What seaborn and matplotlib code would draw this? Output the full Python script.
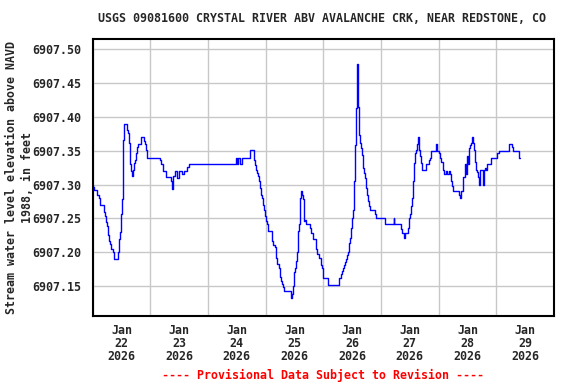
import numpy as np
import pandas as pd
import matplotlib
matplotlib.use("Agg")
import matplotlib.pyplot as plt
import matplotlib.dates as mdates
import matplotlib.ticker as mticker
import seaborn as sns

title = "USGS 09081600 CRYSTAL RIVER ABV AVALANCHE CRK, NEAR REDSTONE, CO"
ylabel = "Stream water level elevation above NAVD\n1988, in feet"
footer = "---- Provisional Data Subject to Revision ----"
start = "2026-01-22"

# hours since 2026-01-22 00:00
hours = [0, 0.2, 0.6, 1.8, 2.7, 3.1, 4.7, 5.2, 5.6, 6.0, 6.4, 6.8, 7.2, 7.7, 8.5, 8.9,
         10.6, 11.0, 11.4, 11.8, 12.2, 12.6, 13.1, 14.2, 14.6, 15.0, 15.4, 16.1, 16.5,
         16.9, 17.4, 17.8, 18.2, 18.6, 19.0, 20.3, 21.5, 21.9, 22.4, 22.8, 28.0, 28.5,
         29.3, 30.5, 32.6, 33.0, 33.3, 33.5, 34.3, 35.1, 36.0, 37.2, 38.0, 39.3, 40.1,
         59.7, 60.1, 60.5, 61.4, 62.2, 65.5, 67.2, 67.6, 68.0, 68.4, 68.9, 69.3, 69.7,
         70.1, 70.5, 70.9, 71.4, 71.8, 72.2, 72.6, 73.0, 74.7, 75.1, 75.9, 76.3, 76.8,
         77.6, 78.0, 78.4, 78.8, 79.3, 79.7, 82.6, 83.0, 83.4, 83.8, 84.3, 84.7, 85.1,
         85.5, 85.9, 86.3, 86.8, 87.2, 87.6, 87.9, 88.4, 88.8, 90.5, 90.9, 91.8, 93.0,
         93.4, 94.3, 95.1, 95.5, 95.9, 98.0, 102.6, 103.4, 103.8, 104.3, 104.7, 105.1,
         105.5, 105.9, 106.3, 106.8, 107.2, 107.6, 108.0, 108.4, 108.8, 109.3, 109.7,
         110.1, 110.5, 110.6, 110.9, 111.3, 111.7, 112.1, 112.5, 113.0, 113.4, 113.8,
         114.2, 114.6, 115.0, 115.5, 117.5, 118.0, 121.7, 125.3, 125.5, 128.4, 128.8,
         129.6, 130.0, 131.3, 131.7, 132.1, 132.5, 133.0, 133.4, 133.8, 134.2, 134.6,
         135.0, 135.3, 135.7, 136.1, 136.6, 137.0, 138.8, 140.0, 140.4, 140.9, 142.9,
         143.3, 144.2, 144.6, 145.0, 145.8, 146.3, 147.0, 147.5, 148.3, 148.7, 149.2,
         149.6, 150.0, 152.5, 152.9, 153.3, 154.3, 155.0, 155.2, 155.8, 156.2, 156.7,
         157.1, 157.5, 157.9, 158.3, 158.7, 159.2, 159.6, 160.0, 160.4, 160.8, 161.0,
         161.2, 162.5, 162.9, 163.3, 163.7, 164.2, 165.8, 168.3, 169.0, 173.4, 174.6,
         175.0, 177.4, 177.7]

elevation = [6907.300, 6907.297, 6907.292, 6907.285, 6907.280, 6907.270, 6907.260,
             6907.253, 6907.244, 6907.239, 6907.226, 6907.217, 6907.212, 6907.205,
             6907.200, 6907.190, 6907.200, 6907.220, 6907.230, 6907.256, 6907.278,
             6907.366, 6907.390, 6907.381, 6907.376, 6907.361, 6907.331, 6907.320,
             6907.312, 6907.321, 6907.332, 6907.337, 6907.347, 6907.356, 6907.360,
             6907.370, 6907.364, 6907.360, 6907.351, 6907.340, 6907.336, 6907.331,
             6907.320, 6907.311, 6907.306, 6907.293, 6907.306, 6907.312, 6907.320,
             6907.310, 6907.320, 6907.315, 6907.320, 6907.326, 6907.330,
             6907.339, 6907.330, 6907.340, 6907.330, 6907.340, 6907.351, 6907.337,
             6907.329, 6907.322, 6907.317, 6907.312, 6907.305, 6907.295, 6907.285,
             6907.280, 6907.270, 6907.262, 6907.253, 6907.246, 6907.241, 6907.231,
             6907.217, 6907.210, 6907.207, 6907.192, 6907.182, 6907.177, 6907.163,
             6907.158, 6907.153, 6907.148, 6907.142, 6907.132, 6907.138, 6907.150,
             6907.170, 6907.177, 6907.187, 6907.200, 6907.231, 6907.241, 6907.280,
             6907.290, 6907.285, 6907.278, 6907.246, 6907.248, 6907.241, 6907.236,
             6907.229, 6907.220, 6907.205, 6907.198, 6907.191, 6907.181, 6907.176,
             6907.162, 6907.152, 6907.162, 6907.168, 6907.172, 6907.177, 6907.181,
             6907.186, 6907.190, 6907.196, 6907.200, 6907.214, 6907.221, 6907.236,
             6907.251, 6907.262, 6907.305, 6907.359, 6907.413, 6907.479, 6907.450,
             6907.415, 6907.374, 6907.361, 6907.354, 6907.344, 6907.325, 6907.317,
             6907.310, 6907.295, 6907.285, 6907.275, 6907.268, 6907.262, 6907.256,
             6907.251, 6907.241, 6907.251, 6907.241, 6907.234, 6907.229, 6907.221,
             6907.229, 6907.236, 6907.251, 6907.256, 6907.269, 6907.280, 6907.306,
             6907.332, 6907.347, 6907.351, 6907.360, 6907.370, 6907.351, 6907.342,
             6907.332, 6907.321, 6907.331, 6907.336, 6907.340, 6907.350, 6907.360,
             6907.350, 6907.347, 6907.340, 6907.334, 6907.321, 6907.315, 6907.320,
             6907.315, 6907.320, 6907.315, 6907.305, 6907.298, 6907.291, 6907.285,
             6907.280, 6907.291, 6907.311, 6907.330, 6907.315, 6907.342, 6907.330,
             6907.354, 6907.359, 6907.361, 6907.370, 6907.361, 6907.351, 6907.334,
             6907.322, 6907.318, 6907.311, 6907.300, 6907.311, 6907.321, 6907.300,
             6907.321, 6907.325, 6907.321, 6907.331, 6907.340, 6907.347, 6907.350,
             6907.360, 6907.355, 6907.350, 6907.340, 6907.340]

yticks = [6907.15, 6907.20, 6907.25, 6907.30, 6907.35, 6907.40, 6907.45, 6907.50]

df = pd.DataFrame({
    "time": pd.Timestamp(start) + pd.to_timedelta(hours, unit="h"),
    "elevation": elevation,
})

sns.set_theme(style="white")
plt.rcParams["font.family"] = ["DejaVu Sans Mono", "DejaVu Sans"]
plt.rcParams["font.weight"] = "bold"

fig = plt.figure(figsize=(5.76, 3.84), dpi=100)
ax = fig.add_axes([92.6 / 576, 1 - 315.7 / 384, (554 - 92.6) / 576, (315.7 - 39.3) / 384])

sns.lineplot(data=df, x="time", y="elevation", ax=ax, color="#0000ff",
             linewidth=1.0, drawstyle="steps-post")

ax.set_xlim(pd.Timestamp("2026-01-22"), pd.Timestamp("2026-01-30"))
ax.set_ylim(6907.1061, 6907.5148)

ax.set_yticks(yticks)
ax.yaxis.set_major_formatter(mticker.FormatStrFormatter("%.2f"))
ax.xaxis.set_major_locator(mdates.HourLocator(byhour=[12]))
ax.xaxis.set_major_formatter(mdates.DateFormatter("%b\n%d\n%Y"))
ax.xaxis.set_minor_locator(mdates.DayLocator())

ax.grid(False)
ax.grid(True, axis="y", which="major", color="#c8c8c8", linewidth=1.0)
ax.grid(True, axis="x", which="minor", color="#c8c8c8", linewidth=1.0)
ax.tick_params(axis="x", which="both", length=0, pad=6, labelsize=8.4)
ax.tick_params(axis="y", which="major", length=0, pad=8, labelsize=8.4)
for lab in ax.get_xticklabels() + ax.get_yticklabels():
    lab.set_fontweight("bold")
    lab.set_linespacing(1.0)

for s in ax.spines.values():
    s.set_color("black")
    s.set_linewidth(1.5)

ax.set_xlabel("")
ax.set_ylabel(ylabel, fontsize=8.4, fontweight="bold", linespacing=1.25)
ax.yaxis.label.set_verticalalignment("center")
ax.yaxis.set_label_coords((19.5 - 92.6) / 461.4, 0.5)

fig.text(322.5 / 576, 1 - 19 / 384, title, ha="center", va="center",
         fontsize=8.4, fontweight="bold")
fig.text(322.5 / 576, 1 - 375 / 384, footer, ha="center", va="center",
         fontsize=8.4, fontweight="bold", color="#ff0000")

fig.savefig("out.png", dpi=100)
